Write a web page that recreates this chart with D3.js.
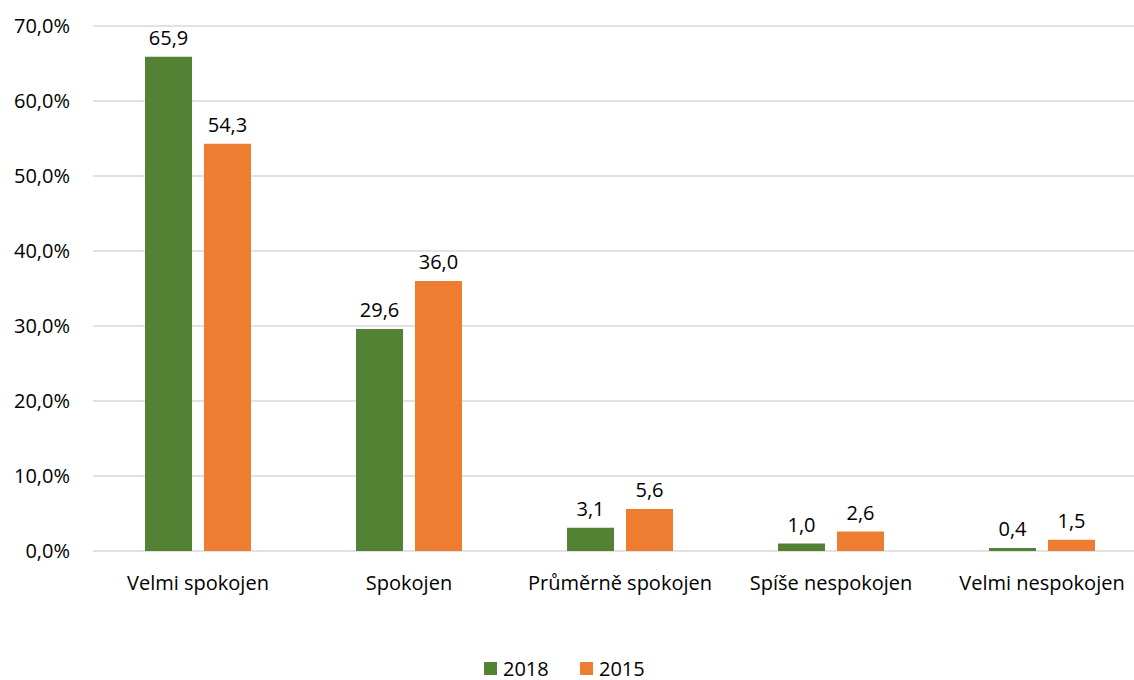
<!DOCTYPE html>
<html>
<head>
<meta charset="utf-8">
<script src="https://cdn.jsdelivr.net/npm/d3@7"></script>
<style>
  body { margin: 0; background: #fff; }
  text { font-family: "Open Sans", sans-serif; fill: #000; }
</style>
</head>
<body>
<svg id="chart" width="1134" height="680"></svg>
<script>
const categories = ["Velmi spokojen", "Spokojen", "Průměrně spokojen", "Spíše nespokojen", "Velmi nespokojen"];
const seriesNames = ["2018", "2015"];
const values2018 = [65.9, 29.6, 3.1, 1.0, 0.4];
const values2015 = [54.3, 36.0, 5.6, 2.6, 1.5];
const yTicks = [0, 10, 20, 30, 40, 50, 60, 70];
const colors = ["#548235", "#ED7D31"];

const svg = d3.select("#chart");
const fs = 20;

const x = d3.scaleBand().domain(categories).range([92.5, 1147.5]).paddingInner(0.4976).paddingOuter(0.2488);
const xs = d3.scaleBand().domain(seriesNames).range([0, x.bandwidth()]).paddingInner(0.203);
const y = d3.scaleLinear().domain([0, 70]).range([551, 26]);

const fmt = v => v.toFixed(1).replace(".", ",");

// gridlines
svg.append("g").selectAll("line")
    .data(yTicks)
    .enter().append("line")
    .attr("x1", 93).attr("x2", 1134)
    .attr("y1", d => y(d)).attr("y2", d => y(d))
    .attr("stroke", "#d9d9d9").attr("stroke-width", 1.5);

// y labels
svg.append("g").selectAll("text")
    .data(yTicks)
    .enter().append("text")
    .attr("x", 70).attr("y", d => y(d))
    .attr("dy", "0.35em")
    .attr("text-anchor", "end")
    .attr("font-size", fs)
    .text(d => fmt(d) + "%");

const rows = categories.map((c, i) => ({ cat: c, vals: [values2018[i], values2015[i]] }));

const groups = svg.append("g").selectAll("g")
    .data(rows)
    .enter().append("g")
    .attr("transform", d => `translate(${x(d.cat)},0)`);

groups.selectAll("rect")
    .data(d => d.vals.map((v, j) => ({ s: seriesNames[j], v, j })))
    .enter().append("rect")
    .attr("x", d => xs(d.s))
    .attr("width", xs.bandwidth())
    .attr("y", d => y(d.v))
    .attr("height", d => y(0) - y(d.v))
    .attr("fill", d => colors[d.j]);

groups.selectAll("text")
    .data(d => d.vals.map((v, j) => ({ s: seriesNames[j], v, j })))
    .enter().append("text")
    .attr("x", d => xs(d.s) + xs.bandwidth() / 2)
    .attr("y", d => y(d.v) - 12)
    .attr("text-anchor", "middle")
    .attr("font-size", fs)
    .text(d => fmt(d.v));

// x labels
svg.append("g").selectAll("text")
    .data(categories)
    .enter().append("text")
    .attr("x", d => x(d) + x.bandwidth() / 2)
    .attr("y", 583)
    .attr("dy", "0.35em")
    .attr("text-anchor", "middle")
    .attr("font-size", fs)
    .text(d => d);

// legend
const legendX = [484, 580];
const legend = svg.append("g").selectAll("g")
    .data(seriesNames)
    .enter().append("g")
    .attr("transform", (d, i) => `translate(${legendX[i]},662)`);
legend.append("rect").attr("width", 13).attr("height", 13).attr("fill", (d, i) => colors[i]);
legend.append("text").attr("x", 19).attr("y", 6.5).attr("dy", "0.35em").attr("font-size", fs).text(d => d);
</script>
</body>
</html>
